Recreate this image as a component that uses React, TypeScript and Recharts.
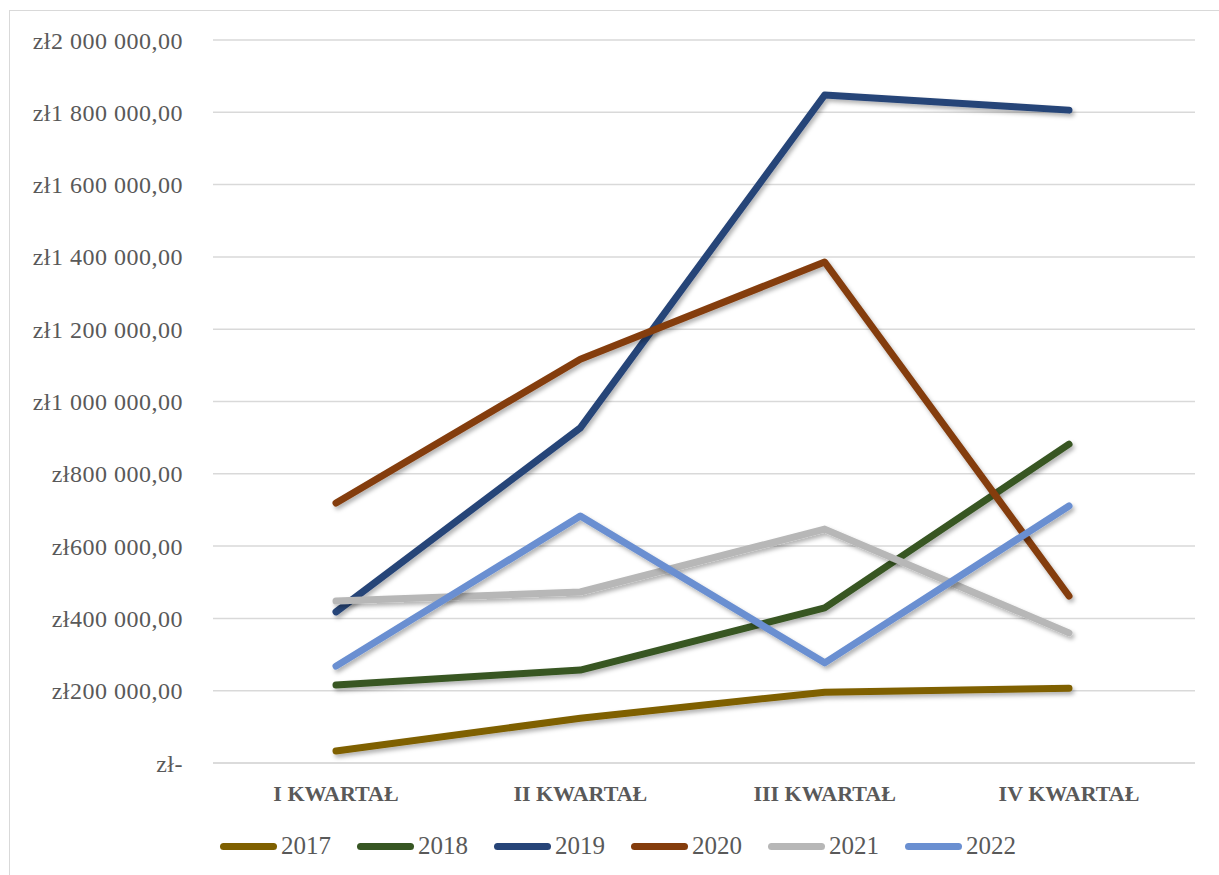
import React from 'react';
import { LineChart, Line, XAxis, YAxis, CartesianGrid } from 'recharts';

const QUARTERS = ['I KWARTAŁ', 'II KWARTAŁ', 'III KWARTAŁ', 'IV KWARTAŁ'];
const YEARS = ['2017', '2018', '2019', '2020', '2021', '2022'];
const COLORS = ['#7f6000', '#375623', '#264478', '#843c0c', '#b7b7b7', '#6a8fd1'];

const V2017 = [33000, 124000, 196000, 207000];
const V2018 = [216000, 257000, 429000, 882000];
const V2019 = [418000, 927000, 1848000, 1806000];
const V2020 = [719000, 1117000, 1386000, 462000];
const V2021 = [448000, 473000, 647000, 360000];
const V2022 = [268000, 683000, 277000, 711000];

const Y_TICKS = [0, 200000, 400000, 600000, 800000, 1000000, 1200000, 1400000, 1600000, 1800000, 2000000];

const SERIES = [V2017, V2018, V2019, V2020, V2021, V2022];

const data = QUARTERS.map((q, i) => {
  const row: Record<string, string | number> = { name: q };
  YEARS.forEach((y, k) => {
    row[y] = SERIES[k][i];
  });
  return row;
});

// "zł1 800 000,00", zero shown as "zł-"
const formatPln = (v: number) => {
  if (v === 0) return 'zł-';
  const s = String(Math.round(v)).replace(/\B(?=(\d{3})+(?!\d))/g, ' ');
  return `zł${s},00`;
};

const FONT = '"Liberation Serif", "DejaVu Serif", serif';

const App: React.FC = () => {
  return (
    <div style={{ position: 'absolute', left: 0, top: 0, width: 1219, height: 875, overflow: 'hidden', background: '#fff' }}>
      <div style={{ position: 'absolute', left: 9, top: 10, width: 1240, height: 900, border: '1px solid #d9d9d9' }} />
      <div style={{ position: 'absolute', left: 0, top: 0 }}>
        <LineChart width={1219} height={875} data={data} margin={{ top: 40, right: 24, left: 0, bottom: 72 }}>
          <defs>
            <filter id="lineShadow" x="-10%" y="-10%" width="120%" height="130%">
              <feDropShadow dx="2" dy="3" stdDeviation="2" floodColor="#000" floodOpacity="0.3" />
            </filter>
          </defs>
          <CartesianGrid vertical={false} stroke="#d9d9d9" strokeWidth={1.5} />
          <XAxis
            dataKey="name"
            height={40}
            axisLine={{ stroke: '#d9d9d9', strokeWidth: 1.5 }}
            tickLine={false}
            tickMargin={16}
            padding={{ left: 123, right: 126 }}
            tick={{ fill: '#595959', fontSize: 22, fontWeight: 'bold', fontFamily: FONT }}
          />
          <YAxis
            width={213}
            domain={[0, 2000000]}
            ticks={Y_TICKS}
            interval={0}
            axisLine={false}
            tickLine={false}
            tickMargin={24}
            tickFormatter={formatPln}
            tick={{ fill: '#595959', fontSize: 24, fontFamily: FONT, letterSpacing: 0.5 }}
          />
          {YEARS.map((y, k) => (
            <Line
              key={y}
              dataKey={y}
              stroke={COLORS[k]}
              strokeWidth={7}
              strokeLinecap="round"
              strokeLinejoin="round"
              dot={false}
              activeDot={false}
              filter="url(#lineShadow)"
              isAnimationActive={false}
            />
          ))}
        </LineChart>
      </div>
      <div
        style={{
          position: 'absolute',
          left: 220,
          top: 832,
          display: 'flex',
          alignItems: 'center',
          fontFamily: FONT,
          fontSize: 25,
          color: '#595959',
        }}
      >
        {YEARS.map((y, k) => (
          <div key={y} style={{ display: 'flex', alignItems: 'center', marginRight: 26 }}>
            <span style={{ display: 'inline-block', width: 57, height: 7, borderRadius: 4, background: COLORS[k], marginRight: 4 }} />
            <span>{y}</span>
          </div>
        ))}
      </div>
    </div>
  );
};

export default App;
